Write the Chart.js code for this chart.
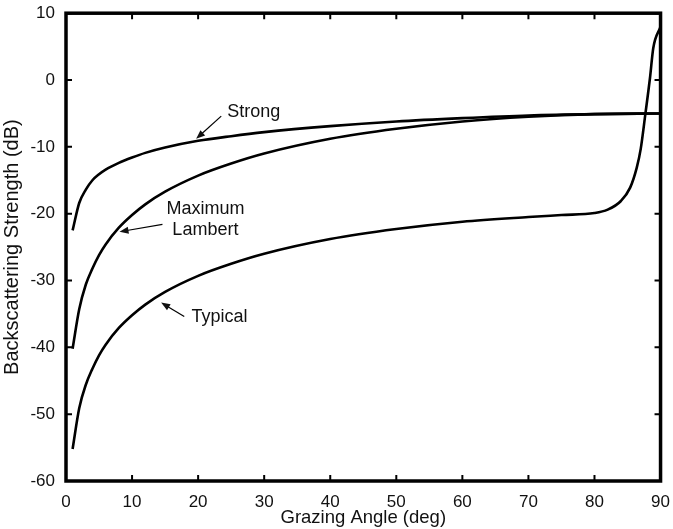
<!DOCTYPE html>
<html>
<head>
<meta charset="utf-8">
<script src="https://cdn.jsdelivr.net/npm/chart.js@4/dist/chart.umd.min.js"></script>
<style>
  html, body { margin: 0; padding: 0; background: #fff; }
  #wrap { width: 673px; height: 529px; }
</style>
</head>
<body>
<div id="wrap"><canvas id="myChart" width="673" height="529"></canvas></div>
<script>
// grazing angles (deg) where curves were read
const angulos = [1, 2, 3, 4, 5, 6, 8, 10, 12, 15, 20, 25, 30, 40, 50, 60, 70, 80, 90];
const strong = [-22.5, -18.4, -16.4, -15.0, -14.1, -13.4, -12.4, -11.6, -10.9, -10.1, -9.1, -8.4, -7.8, -6.9, -6.2, -5.7, -5.3, -5.1, -5.0];
const maxLambert = [-40.2, -34.3, -30.6, -28.2, -26.2, -24.6, -22.1, -20.2, -18.6, -16.7, -14.3, -12.5, -11.0, -8.8, -7.3, -6.2, -5.5, -5.1, -5.0];

const angulosTipico = [1, 2, 3, 4, 5, 6, 8, 10, 12, 15, 20, 25, 30, 40, 50, 60, 70, 75, 80, 82, 84, 85.4, 86.4, 87, 87.7, 88.4, 88.9, 90];
const typical = [-55.2, -49.1, -45.6, -43.2, -41.2, -39.6, -37.1, -35.2, -33.6, -31.7, -29.3, -27.5, -26.0, -23.8, -22.3, -21.2, -20.5, -20.2, -19.9, -19.4, -18.1, -16.1, -13.1, -10.3, -5.1, 0.3, 4.8, 8.0];

const xTicks = [0, 10, 20, 30, 40, 50, 60, 70, 80, 90];
const yTicks = [10, 0, -10, -20, -30, -40, -50, -60];

// etiquetas con flecha (coordenadas en unidades de datos)
const etiquetas = [
  { lines: ["Strong"], x: 24.4, y: -4.8, align: "left", from: [23.5, -5.4], to: [19.7, -8.8] },
  { lines: ["Maximum", "Lambert"], x: 21.1, y: -20.85, align: "center", from: [14.6, -21.6], to: [8.1, -22.7] },
  { lines: ["Typical"], x: 19.0, y: -35.4, align: "left", from: [17.9, -35.4], to: [14.4, -33.3] },
];

const fuente = "'Liberation Sans', Arial, Helvetica, sans-serif";

function armar(xs, ys) {
  return xs.map(function (x, i) { return { x: x, y: ys[i] }; });
}

function serie(label, xs, ys) {
  return {
    label: label,
    data: armar(xs, ys),
    borderColor: "#000",
    borderWidth: 2.6,
    pointRadius: 0,
    fill: false,
    cubicInterpolationMode: "monotone",
  };
}

const marco = {
  id: "marco",
  afterDraw: function (chart) {
    const ctx = chart.ctx;
    const a = chart.chartArea;
    const sx = chart.scales.x;
    const sy = chart.scales.y;
    ctx.save();
    ctx.strokeStyle = "#000";
    ctx.lineWidth = 2;
    ctx.beginPath();
    xTicks.forEach(function (v) {
      const px = sx.getPixelForValue(v);
      ctx.moveTo(px, a.bottom); ctx.lineTo(px, a.bottom - 6);
      ctx.moveTo(px, a.top); ctx.lineTo(px, a.top + 6);
    });
    yTicks.forEach(function (v) {
      const py = sy.getPixelForValue(v);
      ctx.moveTo(a.left, py); ctx.lineTo(a.left + 6, py);
      ctx.moveTo(a.right, py); ctx.lineTo(a.right - 6, py);
    });
    ctx.stroke();
    ctx.lineWidth = 3.5;
    ctx.strokeRect(a.left, a.top, a.right - a.left, a.bottom - a.top);

    // anotaciones
    ctx.fillStyle = "#111";
    ctx.font = "18px " + fuente;
    ctx.textBaseline = "middle";
    etiquetas.forEach(function (e) {
      ctx.textAlign = e.align;
      const px = sx.getPixelForValue(e.x);
      const py = sy.getPixelForValue(e.y);
      const h = 21;
      const y0 = py - (e.lines.length - 1) * h / 2;
      e.lines.forEach(function (t, i) { ctx.fillText(t, px, y0 + i * h); });

      const x1 = sx.getPixelForValue(e.from[0]), y1 = sy.getPixelForValue(e.from[1]);
      const x2 = sx.getPixelForValue(e.to[0]), y2 = sy.getPixelForValue(e.to[1]);
      const ang = Math.atan2(y2 - y1, x2 - x1);
      ctx.lineWidth = 1.2;
      ctx.beginPath();
      ctx.moveTo(x1, y1);
      ctx.lineTo(x2 - 6 * Math.cos(ang), y2 - 6 * Math.sin(ang));
      ctx.stroke();
      ctx.beginPath();
      ctx.moveTo(x2, y2);
      ctx.lineTo(x2 - 9 * Math.cos(ang) + 3.5 * Math.sin(ang), y2 - 9 * Math.sin(ang) - 3.5 * Math.cos(ang));
      ctx.lineTo(x2 - 9 * Math.cos(ang) - 3.5 * Math.sin(ang), y2 - 9 * Math.sin(ang) + 3.5 * Math.cos(ang));
      ctx.closePath();
      ctx.fill();
    });
    ctx.restore();
  },
};

const ctx = document.getElementById("myChart").getContext("2d");

const config = {
  type: "line",
  data: {
    datasets: [
      serie("Strong", angulos, strong),
      serie("Maximum Lambert", angulos, maxLambert),
      serie("Typical", angulosTipico, typical),
    ],
  },
  options: {
    responsive: false,
    animation: false,
    layout: { padding: { top: 12, right: 11, left: 0, bottom: 0 } },
    plugins: { legend: { display: false }, tooltip: { enabled: false } },
    scales: {
      x: {
        type: "linear",
        min: 0,
        max: 90,
        grid: { display: false },
        border: { display: false },
        afterBuildTicks: function (s) { s.ticks = xTicks.map(function (v) { return { value: v }; }); },
        afterFit: function (s) { s.height = 48; },
        ticks: { color: "#111", padding: 3, maxRotation: 0, font: { family: fuente, size: 17 } },
        title: {
          display: true,
          text: "Grazing Angle (deg)",
          color: "#111",
          padding: { top: -4, bottom: 0 },
          font: { family: fuente, size: 18.5 },
        },
      },
      y: {
        min: -60,
        max: 10,
        grid: { display: false },
        border: { display: false },
        afterBuildTicks: function (s) { s.ticks = yTicks.map(function (v) { return { value: v }; }); },
        afterFit: function (s) { s.width = 66; },
        ticks: { color: "#111", padding: 3, font: { family: fuente, size: 17 } },
        title: {
          display: true,
          text: "Backscattering Strength (dB)",
          color: "#111",
          padding: { top: 0, bottom: 2 },
          font: { family: fuente, size: 20 },
        },
      },
    },
  },
  plugins: [marco],
};

const myChart = new Chart(ctx, config);
</script>
</body>
</html>
